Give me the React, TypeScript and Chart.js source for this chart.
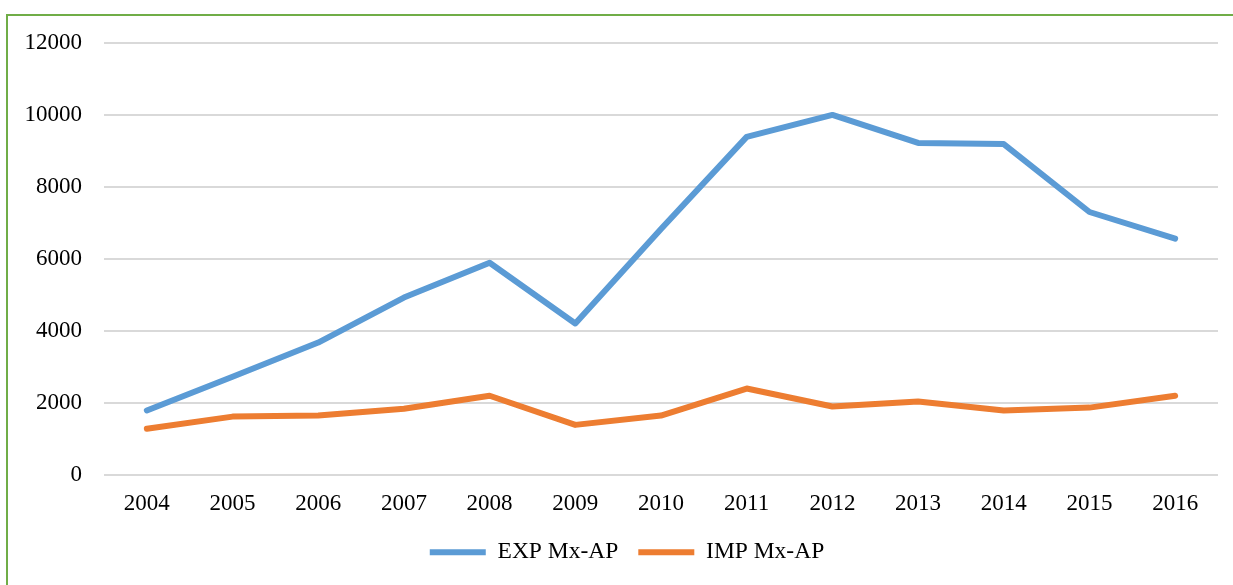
import React, { useEffect, useRef } from "react";
import { Chart, registerables } from "chart.js";

Chart.register(...registerables);

const years = ["2004","2005","2006","2007","2008","2009","2010","2011","2012","2013","2014","2015","2016"];
const expValues = [1780, 2720, 3670, 4920, 5890, 4200, 6830, 9390, 10000, 9220, 9190, 7300, 6560];
const impValues = [1270, 1610, 1640, 1830, 2190, 1380, 1640, 2390, 1890, 2030, 1780, 1860, 2190];
const yTicks = [0, 2000, 4000, 6000, 8000, 10000, 12000];

const FONT = "'Liberation Serif', 'Times New Roman', serif";

const legendShift = {
  id: "legendShift",
  afterLayout(chart: any) {
    if (chart.legend) {
      chart.legend.left += 18;
      chart.legend.right += 18;
    }
  },
};

export default function App() {
  const ref = useRef<HTMLCanvasElement | null>(null);
  useEffect(() => {
    if (!ref.current) return;
    const chart = new Chart(ref.current, {
      type: "line",
      data: {
        labels: years,
        datasets: [
          {
            label: "EXP Mx-AP",
            data: expValues,
            borderColor: "#5B9BD5",
            backgroundColor: "#5B9BD5",
            borderWidth: 6,
            pointRadius: 0,
            pointHoverRadius: 0,
            tension: 0,
            borderCapStyle: "round",
            borderJoinStyle: "round",
            pointStyle: "line",
          },
          {
            label: "IMP Mx-AP",
            data: impValues,
            borderColor: "#ED7D31",
            backgroundColor: "#ED7D31",
            borderWidth: 6,
            pointRadius: 0,
            pointHoverRadius: 0,
            tension: 0,
            borderCapStyle: "round",
            borderJoinStyle: "round",
            pointStyle: "line",
          },
        ],
      },
      options: {
        animation: false,
        responsive: false,
        maintainAspectRatio: false,
        layout: { padding: { top: 43, right: 15, left: 0, bottom: 11 } },
        plugins: {
          tooltip: { enabled: false },
          legend: {
            position: "bottom",
            labels: {
              usePointStyle: true,
              pointStyleWidth: 56,
              boxWidth: 56,
              boxHeight: 5,
              padding: 20,
              color: "#000",
              font: { family: FONT, size: 23.5 },
            },
          },
        },
        scales: {
          x: {
            offset: true,
            grid: { display: false, drawTicks: false, offset: true },
            border: { display: false },
            ticks: { color: "#000", font: { family: FONT, size: 23 }, padding: 16, maxRotation: 0 },
            afterFit: (s: any) => { s.height = 46; },
          },
          y: {
            min: 0,
            max: 12000,
            afterBuildTicks: (s: any) => { s.ticks = yTicks.map((v) => ({ value: v })); },
            grid: { color: "#D9D9D9", lineWidth: 2, drawTicks: false },
            border: { display: false },
            ticks: {
              color: "#000",
              font: { family: FONT, size: 23 },
              padding: 22,
              callback: (v: any) => String(v),
            },
            afterFit: (s: any) => { s.width = 104; },
          },
        },
      },
      plugins: [legendShift],
    });
    return () => chart.destroy();
  }, []);
  return (
    <div style={{ position: "fixed", left: 0, top: 0, width: 1233, height: 585, background: "#fff", overflow: "hidden" }}>
      <div style={{ position: "absolute", left: 6, top: 14, width: 1260, height: 620, border: "2px solid #70AD47" }} />
      <canvas ref={ref} width={1233} height={585} style={{ position: "absolute", left: 0, top: 0 }} />
    </div>
  );
}
